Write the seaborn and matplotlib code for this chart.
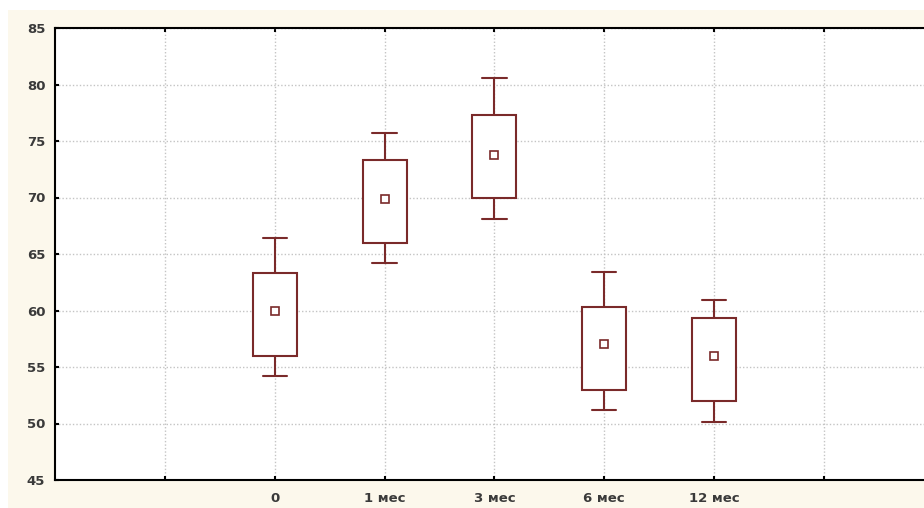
import numpy as np
import pandas as pd
import matplotlib
matplotlib.use("Agg")
import matplotlib.pyplot as plt
import seaborn as sns

categories = ["0", "1 мес", "3 мес", "6 мес", "12 мес"]
whisker_low = [54.2, 64.2, 68.1, 51.2, 50.1]
box_low = [56.0, 66.0, 70.0, 53.0, 52.0]
center = [60.0, 69.9, 73.8, 57.0, 56.0]
box_high = [63.3, 73.3, 77.3, 60.3, 59.3]
whisker_high = [66.4, 75.7, 80.6, 63.4, 60.9]

y_ticks = [45, 50, 55, 60, 65, 70, 75, 80, 85]

dark = "#7a2a2a"
grid_c = "#c4c4c4"
text_c = "#3a3a3a"

sns.set_style("white")
plt.rcParams["font.family"] = ["DejaVu Sans"]

# long-form table: five values per group reproduce the box statistics exactly
rows = []
for i, c in enumerate(categories):
    for v in (whisker_low[i], box_low[i], center[i], box_high[i], whisker_high[i]):
        rows.append({"group": c, "value": v})
df = pd.DataFrame(rows)
centers = pd.DataFrame({"group": categories, "value": center})

fig = plt.figure(figsize=(9.24, 5.08), dpi=100, facecolor="white")
fig.patches.append(plt.Rectangle((8 / 924, 0), 1, 1 - 10 / 508, transform=fig.transFigure,
                                 facecolor="#fcf8ec", edgecolor="none", zorder=-10))
ax = fig.add_axes([55 / 924, 1 - 480 / 508, 1 - 55 / 924, (480 - 28) / 508])
ax.set_facecolor("white")

sns.boxplot(data=df, x="group", y="value", order=categories, ax=ax,
            color="white", linecolor=dark, linewidth=1.5, width=0.4,
            whis=(0, 100), showfliers=False, capwidths=0.22,
            medianprops={"visible": False}, zorder=3)
sns.pointplot(data=centers, x="group", y="value", order=categories, ax=ax,
              errorbar=None, linestyle="none", marker="s", color=dark,
              markersize=5.5, markerfacecolor="white", markeredgecolor=dark,
              markeredgewidth=1.2, zorder=4)

ax.set_xlim(-2, 5.91)
ax.set_ylim(45, 85)
ax.set_xticks([-1, 0, 1, 2, 3, 4, 5])
ax.set_xticklabels([""] + categories + [""])
ax.set_yticks(y_ticks)
ax.set_yticklabels([str(t) for t in y_ticks])
ax.set_xlabel("")
ax.set_ylabel("")

ax.grid(True, color=grid_c, linestyle=(0, (1, 1.5)), linewidth=1.0, zorder=0)
ax.set_axisbelow(True)

for s in ["left", "bottom", "top"]:
    ax.spines[s].set_visible(True)
    ax.spines[s].set_color("black")
    ax.spines[s].set_linewidth(1.5)
ax.spines["right"].set_visible(False)

ax.tick_params(axis="both", direction="in", length=3, width=1.5, color="black",
               labelsize=9.5, labelcolor=text_c)
ax.tick_params(axis="x", top=True, bottom=True, pad=9)
ax.tick_params(axis="y", left=True, right=False, pad=7)
for lab in ax.get_xticklabels() + ax.get_yticklabels():
    lab.set_fontweight("bold")

fig.savefig("out.png", dpi=100, facecolor=fig.get_facecolor())
